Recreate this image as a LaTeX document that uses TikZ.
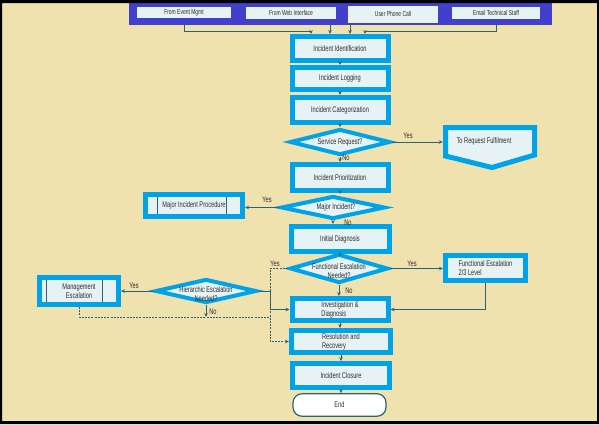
\documentclass[tikz,border=0pt]{standalone}
\usepackage{fontspec}
\setmainfont{Liberation Sans}[FakeStretch=0.69]
\usetikzlibrary{shapes.geometric,arrows.meta}
\definecolor{creme}{RGB}{240,226,174}
\definecolor{ciano}{RGB}{0,162,232}
\definecolor{fundocx}{RGB}{230,242,244}
\definecolor{barra}{RGB}{64,64,204}
\definecolor{linha}{RGB}{40,100,120}
\definecolor{texto}{RGB}{45,45,45}
\tikzset{
	rotulo/.style={font=\fontsize{8.2}{9}\selectfont, text=texto},
	etapa/.style={rotulo, rectangle, draw=ciano, line width=5pt, fill=fundocx, inner sep=0pt, align=center, minimum width=96pt, minimum height=24pt},
	decisao/.style={diamond, draw=ciano, line width=4pt, fill=fundocx, inner sep=0pt},
	origem/.style={font=\fontsize{7.2}{8}\selectfont, text=texto, fill=fundocx, inner sep=0pt},
	resp/.style={rotulo, inner sep=0pt},
	fluxo/.style={draw=linha, line width=1pt, -{Stealth[length=4pt,width=3.5pt]}},
	pontilhado/.style={fluxo, dash pattern=on 2pt off 1.2pt}
}
\begin{document}
\begin{tikzpicture}[x=1pt, y=-1pt]
	\useasboundingbox (0,0) rectangle (599,424);
	\fill[creme] (0,0) rectangle (599,424);
	% Defina a coluna central
	\def\xc{340}
	
	% Barra das origens
	\node[fill=barra, minimum width=423pt, minimum height=25pt, inner sep=0pt, outer sep=0pt] (barra) at (340.5,12.5) {};
	\node[origem, minimum width=94pt, minimum height=11pt] (evento) at (184,12.5) {From Event Mgmt};
	\node[origem, minimum width=90pt, minimum height=12pt] (web) at (291,13) {From Web Interface};
	\node[origem, minimum width=90pt, minimum height=17pt] (fone) at (393,14) {User Phone Call};
	\node[origem, minimum width=88pt, minimum height=12pt] (email) at (496,12.5) {Email Technical Staff};
	
	% Etapas centrais
	\node[etapa] (ident) at (\xc,48.5) {Incident Identification};
	\node[etapa, minimum height=22pt] (logg) at (\xc,78.5) {Incident Logging};
	\node[etapa, minimum height=25pt] (categ) at (\xc,110) {Incident Categorization};
	\node[decisao, minimum width=100pt, minimum height=26pt, label={[rotulo]center:Service Request?}] (sr) at (\xc,142) {};
	\node[etapa, minimum height=26pt] (prior) at (\xc,177.5) {Incident Prioritization};
	\node[decisao, minimum width=104pt, minimum height=23pt, label={[rotulo, xshift=3pt]center:Major Incident?}] (mi) at (333,207.5) {};
	\node[etapa, minimum width=98pt, minimum height=25pt] (init) at (\xc,239) {Initial Diagnosis};
	\node[decisao, minimum width=98pt, minimum height=29pt, label={[rotulo, align=center, yshift=-3pt]center:{Functional Escalation\\Needed?}}] (fe) at (339,268.5) {};
	\node[etapa, minimum height=22pt, align=left] (invest) at (\xc,309.5) {Investigation \&\\Diagnosis};
	\node[etapa, minimum width=99pt, minimum height=22pt, align=left] (resol) at (341,341.5) {Resolution and\\Recovery};
	\node[etapa, minimum width=97pt, minimum height=24pt] (clos) at (341,375.5) {Incident Closure};
	\node[rotulo, draw=linha, line width=1.2pt, fill=white, rounded corners=9pt, minimum width=93pt, minimum height=22.5pt] (fim) at (339.5,405) {End};
	
	% Etapas laterais
	\draw[line width=5pt, draw=ciano, fill=fundocx] (445.5,127.5) -- (534.5,127.5) -- (534.5,155) -- (492,167.5) -- (445.5,156) -- cycle;
	\node[rotulo, minimum width=82pt, minimum height=28pt, inner sep=0pt] (rf) at (484,141.5) {To Request Fulfilment};
	\node[etapa, minimum width=97pt, minimum height=22pt] (mp) at (194,205.5) {Major Incident Procedure};
	\node[etapa, minimum width=80pt, minimum height=25pt, align=left] (fe23) at (485.5,268) {Functional Escalation\\2/3 Level};
	\node[decisao, minimum width=101pt, minimum height=24pt, label={[rotulo, align=center, yshift=-3pt]center:{Hierarchic Escalation\\Needed?}}] (he) at (206,291) {};
	\node[etapa, minimum width=79pt, minimum height=27pt] (mgmt) at (79,291) {Management\\Escalation};
	\foreach \n/\l in {mp/14, mgmt/9}{
		\draw[linha, line width=0.6pt] ([xshift=\l pt, yshift=-5pt]\n.north west) -- ([xshift=\l pt, yshift=5pt]\n.south west);
		\draw[linha, line width=0.6pt] ([xshift=-19pt, yshift=-5pt]\n.north east) -- ([xshift=-19pt, yshift=5pt]\n.south east);
	}
	
	% Entradas
	\draw[fluxo] (barra.south -| evento.south) -- ++(0,6) -| ([xshift=-29pt]ident.north);
	\draw[fluxo] ([xshift=-10pt]ident.north |- barra.south) -- ([xshift=-10pt]ident.north);
	\draw[fluxo] ([xshift=10pt]ident.north |- barra.south) -- ([xshift=10pt]ident.north);
	\draw[fluxo] (barra.south -| email.south) -- ++(0,6) -| ([xshift=25pt]ident.north);
	
	% Fluxo central
	\foreach \a/\b in {ident/logg, logg/categ, categ/sr, sr/prior, prior/mi, mi/init, init/fe, fe/invest, invest/resol, resol/clos, clos/fim}{
		\draw[fluxo] (\a.south) -- (\a.south |- \b.north);
	}
	
	% Desvios
	\coordinate (juncao) at (270,317);
	\draw[fluxo] (sr.east) -- (sr.east -| rf.west);
	\draw[fluxo] (mi.west) -- (mi.west -| mp.east);
	\draw[fluxo] (fe.east) -- (fe.east -| fe23.west);
	\draw[fluxo] (fe23.south) |- (invest.east);
	\draw[fluxo] (he.west) -- (he.west -| mgmt.east);
	\draw[fluxo] (he.east) -- (he.east -| juncao) |- (invest.west);
	\draw[pontilhado] (fe.west) -| (juncao) |- (resol.west);
	\draw[pontilhado, -] (mgmt.south) |- (juncao);
	\draw[fluxo] (he.south) -- (he.south |- juncao);
	
	% Rótulos
	\node[resp] (sr-sim) at (408,136) {Yes};
	\node[resp] (sr-nao) at (346,158) {No};
	\node[resp] (mi-sim) at (267,200) {Yes};
	\node[resp] (mi-nao) at (348,223) {No};
	\node[resp] (fe-sim) at (412,264) {Yes};
	\node[resp] (fe-sim2) at (275,264) {Yes};
	\node[resp] (fe-nao) at (349,291) {No};
	\node[resp] (he-sim) at (134,286) {Yes};
	\node[resp] (he-nao) at (213,312) {No};
	
	% Moldura
	\fill[black, even odd rule] (0,0) rectangle (599,424) (2,3) rectangle (597,421);
\end{tikzpicture}
\end{document}
